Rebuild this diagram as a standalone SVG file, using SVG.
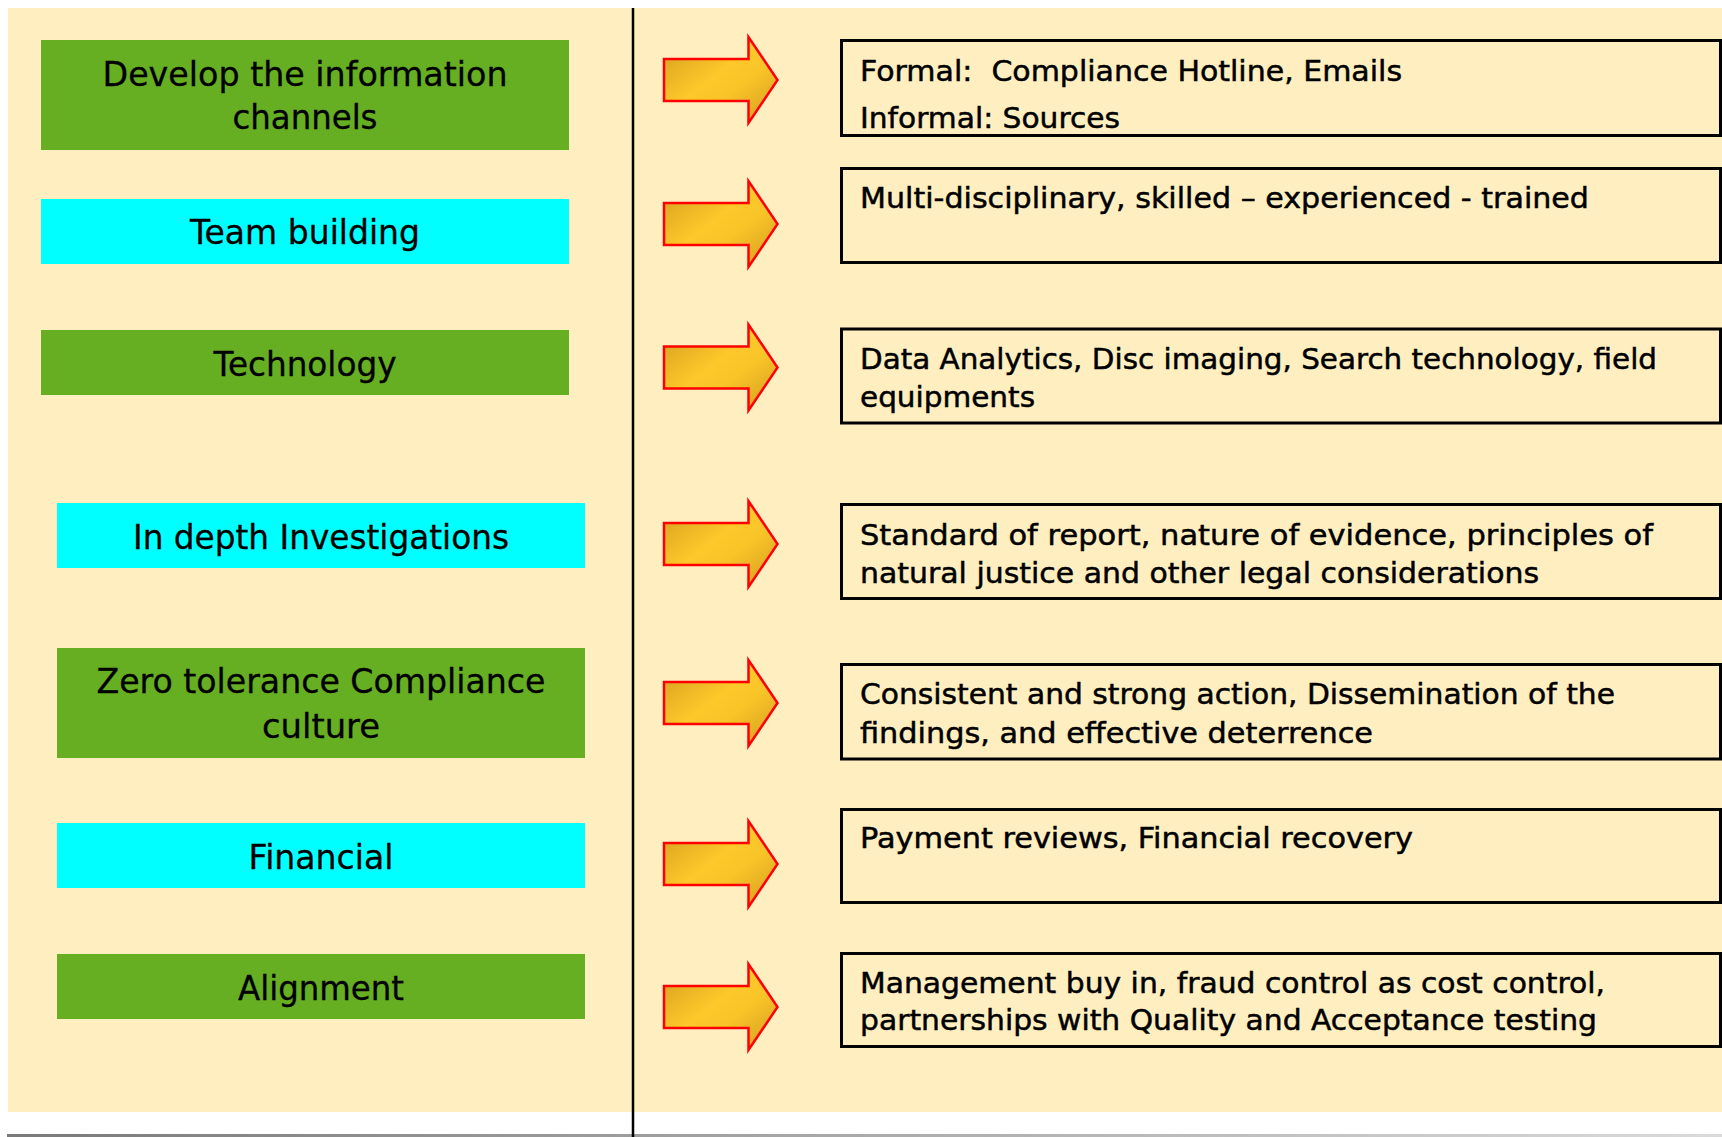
<svg xmlns="http://www.w3.org/2000/svg" xmlns:xlink="http://www.w3.org/1999/xlink" width="1722" height="1137" viewBox="0 0 1722 1137">
<style>
.bg{fill:#FFEFC0}
.green{fill:#66AE22}
.cyan{fill:#00FFFF}
.box{fill:#FFEFC0;stroke:#000;stroke-width:3}
.lt{font-family:"DejaVu Sans",Verdana,sans-serif;font-size:33px;fill:#000;text-anchor:middle;stroke:#000;stroke-width:0.3}
.rt{font-family:"DejaVu Sans",Verdana,sans-serif;font-size:29px;fill:#000;stroke:#000;stroke-width:0.5}
.arrow{fill:url(#ag);stroke:#FF0000;stroke-width:2.5;stroke-linejoin:miter}
</style>
<defs>
<linearGradient id="ag" x1="0" y1="0" x2="1" y2="1">
<stop offset="0" stop-color="#D29C1E"/>
<stop offset="0.45" stop-color="#FDC82A"/>
<stop offset="0.62" stop-color="#F9C428"/>
<stop offset="1" stop-color="#CF9A1E"/>
</linearGradient>
<linearGradient id="bar" x1="0" y1="0" x2="1" y2="0">
<stop offset="0" stop-color="#7A7A7A"/>
<stop offset="1" stop-color="#DADADA"/>
</linearGradient>
<path id="arr" d="M664,-21 H748.5 V-43 L777.5,0 L748.5,43 V21 H664 Z"/>
</defs>
<rect class="bg" x="8" y="8" width="1714" height="1104"/>
<rect x="7" y="1134" width="1715" height="3" fill="url(#bar)"/>
<line x1="633" y1="8" x2="633" y2="1137" stroke="#000" stroke-width="2.5"/>

<g id="n-develop">
<rect class="green" x="41" y="40" width="528" height="110"/>
<text class="lt" x="305" y="86" textLength="405" lengthAdjust="spacingAndGlyphs">Develop the information</text>
<text class="lt" x="305" y="129" textLength="145" lengthAdjust="spacingAndGlyphs">channels</text>
</g>
<g id="n-team">
<rect class="cyan" x="41" y="199" width="528" height="65"/>
<text class="lt" x="305" y="244" textLength="230" lengthAdjust="spacingAndGlyphs">Team building</text>
</g>
<g id="n-tech">
<rect class="green" x="41" y="330" width="528" height="65"/>
<text class="lt" x="305" y="376" textLength="183" lengthAdjust="spacingAndGlyphs">Technology</text>
</g>
<g id="n-invest">
<rect class="cyan" x="57" y="503" width="528" height="65"/>
<text class="lt" x="321" y="549" textLength="376" lengthAdjust="spacingAndGlyphs">In depth Investigations</text>
</g>
<g id="n-zero">
<rect class="green" x="57" y="648" width="528" height="110"/>
<text class="lt" x="321" y="693" textLength="449" lengthAdjust="spacingAndGlyphs">Zero tolerance Compliance</text>
<text class="lt" x="321" y="738" textLength="118" lengthAdjust="spacingAndGlyphs">culture</text>
</g>
<g id="n-fin">
<rect class="cyan" x="57" y="823" width="528" height="65"/>
<text class="lt" x="321" y="869" textLength="145" lengthAdjust="spacingAndGlyphs">Financial</text>
</g>
<g id="n-align">
<rect class="green" x="57" y="954" width="528" height="65"/>
<text class="lt" x="321" y="1000" textLength="166" lengthAdjust="spacingAndGlyphs">Alignment</text>
</g>

<g id="connectors">
<use xlink:href="#arr" href="#arr" class="arrow" transform="translate(0,80)"/>
<use xlink:href="#arr" href="#arr" class="arrow" transform="translate(0,224)"/>
<use xlink:href="#arr" href="#arr" class="arrow" transform="translate(0,367.5)"/>
<use xlink:href="#arr" href="#arr" class="arrow" transform="translate(0,544)"/>
<use xlink:href="#arr" href="#arr" class="arrow" transform="translate(0,703)"/>
<use xlink:href="#arr" href="#arr" class="arrow" transform="translate(0,864)"/>
<use xlink:href="#arr" href="#arr" class="arrow" transform="translate(0,1007)"/>
</g>

<g id="d-channels">
<rect class="box" x="841.5" y="40.5" width="879" height="95"/>
<text class="rt" x="860" y="81" textLength="542" lengthAdjust="spacingAndGlyphs">Formal:&#160; Compliance Hotline, Emails</text>
<text class="rt" x="860" y="128" textLength="260" lengthAdjust="spacingAndGlyphs">Informal: Sources</text>
</g>
<g id="d-team">
<rect class="box" x="841.5" y="168.5" width="879" height="94"/>
<text class="rt" x="860" y="208" textLength="729" lengthAdjust="spacingAndGlyphs">Multi-disciplinary, skilled – experienced - trained</text>
</g>
<g id="d-tech">
<rect class="box" x="841.5" y="329" width="879" height="94"/>
<text class="rt" x="860" y="369" textLength="797" lengthAdjust="spacingAndGlyphs">Data Analytics, Disc imaging, Search technology, field</text>
<text class="rt" x="860" y="406.5" textLength="175" lengthAdjust="spacingAndGlyphs">equipments</text>
</g>
<g id="d-invest">
<rect class="box" x="841.5" y="504.5" width="879" height="94"/>
<text class="rt" x="860" y="545" textLength="793" lengthAdjust="spacingAndGlyphs">Standard of report, nature of evidence, principles of</text>
<text class="rt" x="860" y="583" textLength="679" lengthAdjust="spacingAndGlyphs">natural justice and other legal considerations</text>
</g>
<g id="d-zero">
<rect class="box" x="841.5" y="664.5" width="879" height="94.5"/>
<text class="rt" x="860" y="704" textLength="755" lengthAdjust="spacingAndGlyphs">Consistent and strong action, Dissemination of the</text>
<text class="rt" x="860" y="742.5" textLength="513" lengthAdjust="spacingAndGlyphs">findings, and effective deterrence</text>
</g>
<g id="d-fin">
<rect class="box" x="841.5" y="809.5" width="879" height="93"/>
<text class="rt" x="860" y="848" textLength="553" lengthAdjust="spacingAndGlyphs">Payment reviews, Financial recovery</text>
</g>
<g id="d-align">
<rect class="box" x="841.5" y="953.5" width="879" height="93"/>
<text class="rt" x="860" y="992.5" textLength="745" lengthAdjust="spacingAndGlyphs">Management buy in, fraud control as cost control,</text>
<text class="rt" x="860" y="1030" textLength="737" lengthAdjust="spacingAndGlyphs">partnerships with Quality and Acceptance testing</text>
</g>
</svg>
